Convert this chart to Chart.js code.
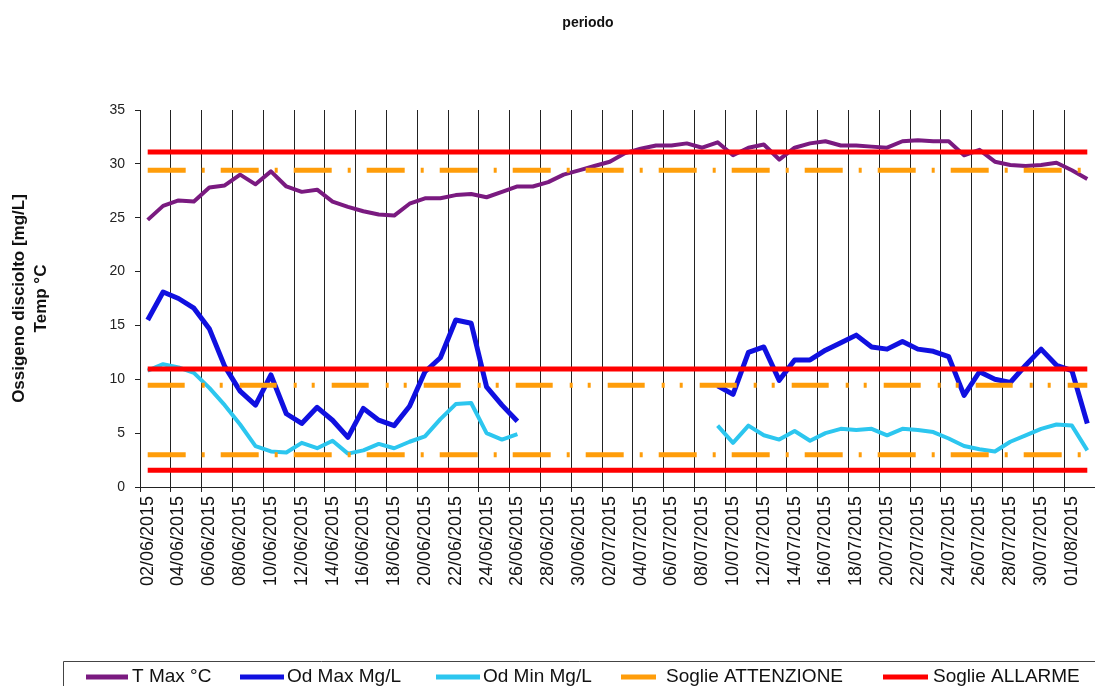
<!DOCTYPE html>
<html>
<head>
<meta charset="utf-8">
<script src="https://cdn.jsdelivr.net/npm/chart.js@4.4.1/dist/chart.umd.min.js"></script>
<style>
html,body{margin:0;padding:0;background:#ffffff;}
#wrap{width:1095px;height:686px;position:relative;overflow:hidden;}
</style>
</head>
<body>
<div id="wrap"><canvas id="c" width="1095" height="686"></canvas></div>
<script>
// ---------- DATA ----------
const chartTitle = 'periodo';
const yTitle = ['Ossigeno disciolto [mg/L]', 'Temp °C'];

const dates = [
  '02/06/2015','03/06/2015','04/06/2015','05/06/2015','06/06/2015','07/06/2015','08/06/2015','09/06/2015',
  '10/06/2015','11/06/2015','12/06/2015','13/06/2015','14/06/2015','15/06/2015','16/06/2015','17/06/2015',
  '18/06/2015','19/06/2015','20/06/2015','21/06/2015','22/06/2015','23/06/2015','24/06/2015','25/06/2015',
  '26/06/2015','27/06/2015','28/06/2015','29/06/2015','30/06/2015',
  '01/07/2015','02/07/2015','03/07/2015','04/07/2015','05/07/2015','06/07/2015','07/07/2015','08/07/2015',
  '09/07/2015','10/07/2015','11/07/2015','12/07/2015','13/07/2015','14/07/2015','15/07/2015','16/07/2015',
  '17/07/2015','18/07/2015','19/07/2015','20/07/2015','21/07/2015','22/07/2015','23/07/2015','24/07/2015',
  '25/07/2015','26/07/2015','27/07/2015','28/07/2015','29/07/2015','30/07/2015','31/07/2015',
  '01/08/2015','02/08/2015'
];

const tMax = [
  24.8, 26.1, 26.6, 26.5, 27.8, 28.0, 29.0, 28.1, 29.3, 27.9,
  27.4, 27.6, 26.5, 26.0, 25.6, 25.3, 25.2, 26.3, 26.8, 26.8,
  27.1, 27.2, 26.9, 27.4, 27.9, 27.9, 28.3, 29.0, 29.4, 29.8,
  30.2, 31.0, 31.4, 31.7, 31.7, 31.9, 31.5, 32.0, 30.8, 31.5,
  31.8, 30.4, 31.5, 31.9, 32.1, 31.7, 31.7, 31.6, 31.5, 32.1,
  32.2, 32.1, 32.1, 30.8, 31.3, 30.2, 29.9, 29.8, 29.9, 30.1,
  29.4, 28.6
];

const odMax = [
  15.5, 18.1, 17.5, 16.6, 14.7, 11.2, 8.9, 7.6, 10.4, 6.8,
  5.9, 7.4, 6.2, 4.6, 7.3, 6.2, 5.7, 7.5, 10.7, 12.0,
  15.5, 15.2, 9.3, 7.6, 6.1, null, null, null, null, null,
  null, null, null, null, null, null, null, 9.4, 8.6, 12.5,
  13.0, 9.9, 11.8, 11.8, 12.7, 13.4, 14.1, 13.0, 12.8, 13.5,
  12.8, 12.6, 12.1, 8.5, 10.7, 10.0, 9.7, 11.3, 12.8, 11.3,
  10.8, 5.9
];

const odMin = [
  10.8, 11.4, 11.1, 10.6, 9.2, 7.6, 5.8, 3.8, 3.3, 3.2,
  4.1, 3.6, 4.3, 3.1, 3.4, 4.0, 3.6, 4.2, 4.7, 6.3,
  7.7, 7.8, 5.0, 4.4, 4.9, null, null, null, null, null,
  null, null, null, null, null, null, null, 5.7, 4.1, 5.7,
  4.8, 4.4, 5.2, 4.3, 5.0, 5.4, 5.3, 5.4, 4.8, 5.4,
  5.3, 5.1, 4.5, 3.8, 3.5, 3.3, 4.2, 4.8, 5.4, 5.8,
  5.7, 3.4
];

const sogliaAttenzione = [29.4, 9.45, 3.0];
const sogliaAllarme = [31.1, 10.95, 1.55];

const yMin = 0, yMax = 35, yStep = 5;

// ---------- STYLE / LAYOUT ----------
const FONT = "'Liberation Sans', Arial, Helvetica, sans-serif";
const COL = {
  tmax: '#7a1a80',
  odmax: '#1010e0',
  odmin: '#2cc6ef',
  att: '#ff9d0a',
  all: '#ff0000',
  axis: '#222222'
};

const constLine = v => dates.map(() => v);

const datasets = [];
sogliaAllarme.forEach(v => datasets.push({
  label: 'Soglie ALLARME', data: constLine(v), borderColor: COL.all, backgroundColor: COL.all,
  borderWidth: 5, group: 'all'
}));
sogliaAttenzione.forEach((v, k) => datasets.push({
  label: 'Soglie ATTENZIONE', data: constLine(v), borderColor: COL.att, backgroundColor: COL.att,
  borderWidth: 5, borderDash: k === 1 ? [37, 17, 3, 15, 3, 17] : [38, 16, 3, 16], group: 'att'
}));
datasets.push({label: 'Od Min Mg/L', data: odMin, borderColor: COL.odmin, backgroundColor: COL.odmin, borderWidth: 4});
datasets.push({label: 'Od Max Mg/L', data: odMax, borderColor: COL.odmax, backgroundColor: COL.odmax, borderWidth: 5});
datasets.push({label: 'T Max °C', data: tMax, borderColor: COL.tmax, backgroundColor: COL.tmax, borderWidth: 4});

// legend order and placement (layout only)
const legendOrder = ['T Max °C', 'Od Max Mg/L', 'Od Min Mg/L', 'Soglie ATTENZIONE', 'Soglie ALLARME'];
const legendPos = [
  {x0: 86, x1: 128, tx: 132},
  {x0: 240, x1: 284, tx: 287},
  {x0: 436, x1: 480, tx: 483},
  {x0: 621, x1: 656, tx: 666},
  {x0: 883, x1: 928, tx: 933}
];

const overlay = {
  id: 'overlay',
  afterDraw(chart) {
    const ctx = chart.ctx;
    ctx.save();
    // title
    ctx.font = 'bold 14px ' + FONT;
    ctx.fillStyle = '#111';
    ctx.textAlign = 'center';
    ctx.textBaseline = 'middle';
    ctx.fillText(chartTitle, 588, 23);
    // legend frame
    ctx.strokeStyle = '#444';
    ctx.lineWidth = 1;
    ctx.beginPath();
    ctx.moveTo(63.5, 690);
    ctx.lineTo(63.5, 661.5);
    ctx.lineTo(1100, 661.5);
    ctx.stroke();
    // legend items
    ctx.font = '19px ' + FONT;
    ctx.textAlign = 'left';
    ctx.textBaseline = 'middle';
    legendOrder.forEach((lab, i) => {
      const ds = chart.data.datasets.find(d => d.label === lab);
      const p = legendPos[i];
      ctx.strokeStyle = ds.borderColor;
      ctx.lineWidth = 5;
      ctx.lineCap = 'butt';
      ctx.beginPath();
      ctx.moveTo(p.x0, 677);
      ctx.lineTo(p.x1, 677);
      ctx.stroke();
      ctx.fillStyle = '#111';
      ctx.fillText(lab, p.tx, 677);
    });
    ctx.restore();
  }
};

const gridCol = c => (c.index % 2 === 0 && c.index < dates.length) ? COL.axis : 'rgba(0,0,0,0)';

new Chart(document.getElementById('c'), {
  type: 'line',
  data: {labels: dates, datasets: datasets},
  options: {
    responsive: false,
    animation: false,
    events: [],
    devicePixelRatio: 1,
    layout: {padding: {top: 110, left: 0, right: -3, bottom: 0}},
    elements: {
      point: {radius: 0, hoverRadius: 0},
      line: {tension: 0, borderCapStyle: 'butt', borderJoinStyle: 'round', fill: false}
    },
    spanGaps: false,
    plugins: {
      legend: {display: false},
      title: {display: false},
      tooltip: {enabled: false}
    },
    scales: {
      x: {
        type: 'category',
        offset: true,
        grid: {offset: true, color: gridCol, tickColor: gridCol, lineWidth: 1, drawTicks: true, tickLength: 5},
        border: {display: true, color: COL.axis, width: 1},
        ticks: {
          autoSkip: false, maxRotation: 90, minRotation: 90, padding: 4,
          color: '#111', font: {family: FONT, size: 18},
          callback: (v, i) => (i % 2 === 0 ? dates[i] : '')
        },
        afterFit: s => { s.height = 199; s.paddingLeft = 0; s.paddingRight = 0; }
      },
      y: {
        min: yMin, max: yMax,
        ticks: {stepSize: yStep, padding: 10, color: '#222', font: {family: FONT, size: 14}},
        grid: {drawOnChartArea: false, drawTicks: true, tickLength: 5, color: COL.axis},
        border: {display: true, color: COL.axis, width: 1},
        title: {
          display: true, text: yTitle, color: '#111',
          font: {family: FONT, size: 17, weight: 'bold', lineHeight: 1.25},
          padding: {top: 9, bottom: 0}
        },
        afterFit: s => { s.width = 140; }
      }
    }
  },
  plugins: [overlay]
});
</script>
</body>
</html>
